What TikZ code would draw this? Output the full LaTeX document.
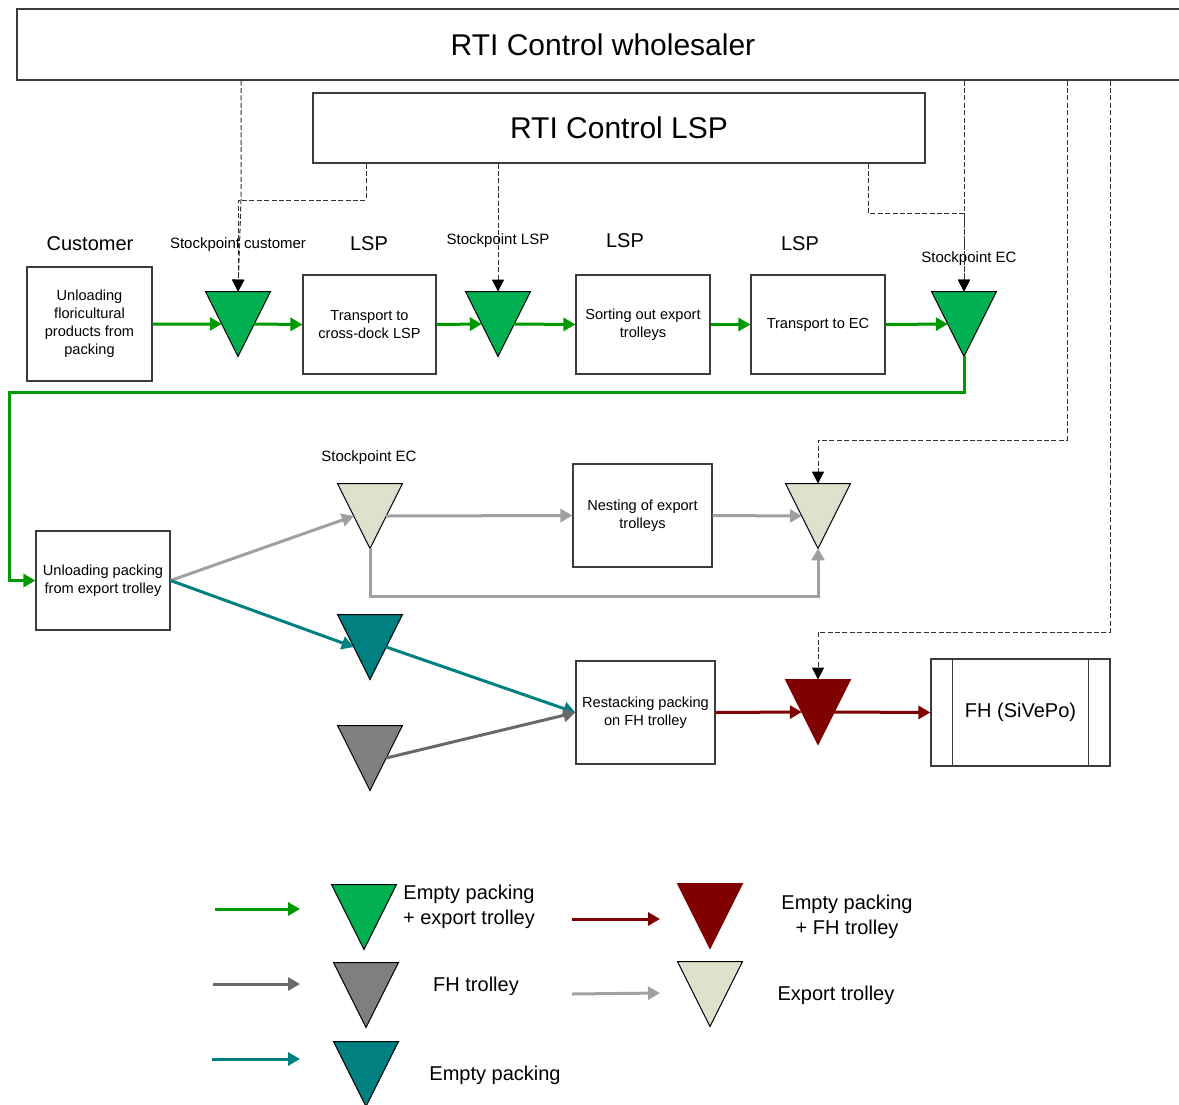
\documentclass[tikz,border=0pt]{standalone}
\usepackage{fontspec}
\setmainfont{Liberation Sans}
\usetikzlibrary{arrows.meta,calc}

\definecolor{boxline}{RGB}{60,60,60}
\definecolor{ctlline}{RGB}{50,50,50}
\definecolor{flowgreen}{RGB}{0,153,0}
\definecolor{trigreen}{RGB}{0,176,80}
\definecolor{flowlight}{RGB}{160,160,160}
\definecolor{trilight}{RGB}{221,226,204}
\definecolor{flowteal}{RGB}{0,128,128}
\definecolor{flowdark}{RGB}{105,105,105}
\definecolor{tridark}{RGB}{127,127,127}
\definecolor{flowred}{RGB}{128,0,0}

\tikzset{
  box/.style={draw=boxline, line width=0.6pt, inner sep=0pt, align=center,
    font=\fontsize{7.3}{9}\selectfont},
  sz/.style 2 args={minimum width=#1*0.5pt, minimum height=#2*0.5pt},
  bigbox/.style={box, font=\fontsize{15}{18}\selectfont},
  role/.style={inner sep=0pt, font=\fontsize{10}{12}\selectfont},
  spname/.style={inner sep=0pt, font=\fontsize{7.5}{9}\selectfont},
  legtext/.style={inner sep=0pt, align=center, font=\fontsize{10}{12.5}\selectfont},
  trinode/.style={rectangle, draw=none, inner sep=0pt, minimum size=32pt},
  tip/.style={-{Triangle[length=6pt,width=6.5pt]}},
  flow/.style={line width=1.5pt, tip},
  ctl/.style={draw=ctlline, line width=0.5pt, dash pattern=on 2.5pt off 1.2pt,
    -{Triangle[length=6pt,width=6pt,fill=black,color=black]}},
}

% stock point: a downward triangle with anchors at the midpoints of its slanted sides
\newcommand\stockpoint[4]{%
  \node[trinode] (#1) at (#2) {};
  \draw[fill=#3, draw=#4, line width=0.5pt, line join=miter]
    (#1.north west) -- (#1.north east) -- (#1.south) -- cycle;
  \coordinate (#1-l) at ($(#1.north west)!0.5!(#1.south)$);
  \coordinate (#1-r) at ($(#1.north east)!0.5!(#1.south)$);
}

\begin{document}
\begin{tikzpicture}[x=0.5pt, y=-0.5pt]
\useasboundingbox (0,0) rectangle (1179,1104);

% control layers
\node[bigbox, sz={1172}{71}] (ws)  at (603,44.5) {RTI Control wholesaler};
\node[bigbox, sz={612}{70}]  (lsp) at (619,128)  {RTI Control LSP};

% process boxes
\node[box, sz={125}{114}] (cust) at (89.5,324)  {Unloading\\floricultural\\products from\\packing};
\node[box, sz={133}{99}]  (tcd)  at (369.5,324.5) {Transport to\\cross-dock LSP};
\node[box, sz={134}{99}]  (sort) at (643,324.5)  {Sorting out export\\trolleys};
\node[box, sz={134}{99}]  (tec)  at (818,324.5)  {Transport to EC};
\node[box, sz={134}{99}]  (unp)  at (103,580.5)  {Unloading packing\\from export trolley};
\node[box, sz={139}{103}] (nest) at (642.5,515.5) {Nesting of export\\trolleys};
\node[box, sz={139}{103}] (rest) at (645.5,712.5) {Restacking packing\\on FH trolley};
\node[box, sz={179}{107}, font=\fontsize{10}{12}\selectfont] (fh) at (1020.5,712.5) {FH (SiVePo)};
\draw[boxline, line width=0.6pt] ($(fh.north west)+(22,0)$) -- ($(fh.south west)+(22,0)$);
\draw[boxline, line width=0.6pt] ($(fh.north east)+(-22,0)$) -- ($(fh.south east)+(-22,0)$);

% role and stock point labels
\node[role] (lcust) at (90,244)  {Customer};
\node[role] (llsp1) at (369,244) {LSP};
\node[role] (llsp2) at (625,241) {LSP};
\node[role] (llsp3) at (800,244) {LSP};
\node[spname] (lsp1) at (238,245) {Stockpoint customer};
\node[spname] (lsp2) at (498,241) {Stockpoint LSP};
\node[spname] (lsp3) at (969,259) {Stockpoint EC};
\node[spname] (lsp4) at (369,458) {Stockpoint EC};

% stock points
\stockpoint{t1}{238,324}{trigreen}{black}
\stockpoint{t2}{498,324}{trigreen}{black}
\stockpoint{t3}{964,324}{trigreen}{black}
\stockpoint{t4}{370,516}{trilight}{black}
\stockpoint{t5}{818,516}{trilight}{black}
\stockpoint{t6}{370,647}{flowteal}{black}
\stockpoint{t7}{370,758}{tridark}{black}
\stockpoint{t8}{818,712}{flowred}{flowred}

% outbound flow: packing + export trolley
\draw[flow, flowgreen] (cust.east) -- (t1-l);
\draw[flow, flowgreen] (t1-r) -- (tcd.west);
\draw[flow, flowgreen] (tcd.east) -- (t2-l);
\draw[flow, flowgreen] (t2-r) -- (sort.west);
\draw[flow, flowgreen] (sort.east) -- (tec.west);
\draw[flow, flowgreen] (tec.east) -- (t3-l);
\coordinate (g1) at (9,392);
\draw[flow, flowgreen] (t3.south) |- (g1) |- (unp.west);

% export trolleys
\draw[flow, flowlight] (unp.east) -- (t4-l);
\draw[flow, flowlight] (t4-r) -- (nest.west);
\draw[flow, flowlight] (nest.east) -- (t5-l);
\coordinate (lp) at (370,596);
\draw[flow, flowlight] (t4.south) -- (lp) -| (t5.south);

% empty packing and FH trolleys
\draw[flow, flowteal] (unp.east) -- (t6-l);
\draw[flow, flowteal] (t6-r) -- (rest.west);
\draw[flow, flowdark] (t7-r) -- (rest.west);
\draw[flow, flowred] (rest.east) -- (t8-l);
\draw[flow, flowred] (t8-r) -- (fh.west);

% control links
\coordinate (k0) at (241,200);
\coordinate (k1) at (366,200);
\coordinate (k3) at (868,213);
\coordinate (k4) at (1067,440);
\coordinate (k5) at (1110,632);
\draw[ctl] (ws.south -| k0) -- (k0) -- (t1.north);
\draw[ctl] (lsp.south -| k1) -- (k1) -| (t1.north);
\draw[ctl] (lsp.south -| t2.north) -- (t2.north);
\draw[ctl] (lsp.south -| k3) -- (k3) -| (t3.north);
\draw[ctl] (ws.south -| t3.north) -- (t3.north);
\draw[ctl] (ws.south -| k4) -- (k4) -| (t5.north);
\draw[ctl] (ws.south -| k5) -- (k5) -| (t8.north);

% legend
\coordinate (a1s) at (215,909);  \coordinate (a1e) at (300,909);
\coordinate (a2s) at (213,984);  \coordinate (a2e) at (300,984);
\coordinate (a3s) at (212,1059); \coordinate (a3e) at (300,1059);
\coordinate (a4s) at (572,919);  \coordinate (a4e) at (660,919);
\coordinate (a5s) at (572,994);  \coordinate (a5e) at (660,993);
\draw[flow, flowgreen] (a1s) -- (a1e);
\draw[flow, flowdark]  (a2s) -- (a2e);
\draw[flow, flowteal]  (a3s) -- (a3e);
\draw[flow, flowred]   (a4s) -- (a4e);
\draw[flow, flowlight] (a5s) -- (a5e);
\stockpoint{lg1}{364,917}{trigreen}{black}
\stockpoint{lg2}{366,995}{tridark}{black}
\stockpoint{lg3}{366,1074}{flowteal}{black}
\stockpoint{lg4}{710,916}{flowred}{flowred}
\stockpoint{lg5}{710,994}{trilight}{black}
\node[legtext] (lt1) at (469,907)  {Empty packing\\+ export trolley};
\node[legtext] (lt2) at (476,986)  {FH trolley};
\node[legtext] (lt3) at (495,1075) {Empty packing};
\node[legtext] (lt4) at (847,917)  {Empty packing\\+ FH trolley};
\node[legtext] (lt5) at (836,995)  {Export trolley};
\end{tikzpicture}
\end{document}
